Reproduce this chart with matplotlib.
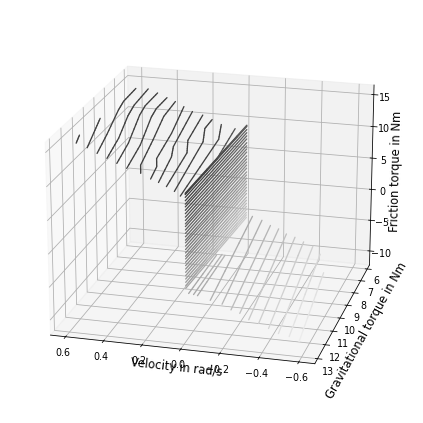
import numpy as np
import matplotlib
matplotlib.use("Agg")
import matplotlib.pyplot as plt
from mpl_toolkits.mplot3d.art3d import Line3DCollection

# Lines at positive velocity: velocity, gravitational torque, friction torque
up_vel = [0.53, 0.48, 0.43, 0.38, 0.33, 0.28, 0.22, 0.17, 0.13, 0.09, 0.05, 0.02, 0.01]
up_grav = [
    [13.2, 12.9],
    [13.1, 12.5, 11.9],
    [13.1, 12.2, 11.1, 10.6, 9.4],
    [13.1, 12.0, 11.1, 10.5, 9.1],
    [13.1, 12.0, 10.9, 10.35, 9.1],
    [13.1, 11.8, 10.7, 10.2, 9.1],
    [12.9, 12.9, 11.7, 10.6, 9.4],
    [12.9, 12.3, 12.3, 10.8, 9.5],
    [12.9, 11.6, 11.4, 9.4],
    [12.9, 10.8, 10.7, 9.1],
    [12.9, 9.9, 9.7, 8.9],
    [12.9, 8.8, 8.5],
    [9.2, 7.1],
]
up_fric = [
    [16.5, 17.2],
    [15.8, 17.0, 18.2],
    [15.1, 16.4, 18.3, 18.85, 19.0],
    [14.5, 15.7, 17.6, 18.25, 18.6],
    [13.9, 15.1, 17.5, 18.05, 18.1],
    [13.3, 14.6, 17.0, 17.5, 17.5],
    [12.4, 13.6, 15.3, 17.1, 17.5],
    [11.7, 12.5, 13.7, 15.0, 17.0],
    [11.3, 12.9, 14.1, 16.2],
    [10.8, 12.3, 14.0, 15.3],
    [10.2, 12.6, 14.3, 14.4],
    [9.6, 11.3, 13.1],
    [9.0, 10.3],
]

# Lines at negative velocity
low_vel = [-0.03, -0.05, -0.075, -0.14, -0.2, -0.25, -0.29, -0.34, -0.39, -0.44, -0.49, -0.54, -0.59]
low_grav_front = [13.1, 13.0, 13.1, 13.1, 13.1, 13.2, 13.1, 13.2, 13.2, 13.2, 13.2, 13.1, 13.1]
low_grav_back = [10.1, 9.9, 10.1, 8.3, 8.5, 8.6, 8.5, 8.7, 8.8, 8.9, 8.9, 9.2, 10.0]
low_fric_front = [-4.3, -4.6, -4.5, -5.0, -5.4, -5.9, -6.5, -7.1, -7.5, -8.1, -8.7, -9.2, -9.8]
low_fric_back = [-4.2, -4.4, -4.1, -1.1, -1.2, -1.7, -2.3, -2.6, -2.8, -3.2, -3.7, -4.3, -5.5]

# Wall of lines at zero velocity
wall_grav = [12.8, 5.9]
wall_fric_front = [9.9, 9.8, 9.7, 9.3, 8.8, 8.3, 7.9, 7.4, 6.9, 6.4, 5.9, 5.4, 5.0, 4.5, 4.0, 3.5,
                   3.0, 2.6, 2.1, 1.6, 1.1, 0.6, 0.2, -0.3, -0.8, -1.3, -1.8, -2.3, -2.8, -3.3, -3.8, -4.2]
wall_fric_back = [9.0, 8.9, 8.8, 8.3, 7.8, 7.3, 6.8, 6.2, 5.7, 5.2, 4.7, 4.1, 3.6, 3.1, 2.6, 2.1,
                  1.5, 1.0, 0.5, 0.0, -0.5, -1.0, -1.5, -2.0, -2.6, -3.1, -3.6, -4.1, -4.6, -5.1, -5.5, -5.9]


def shade(v, y, z):
    grey = 0.22 + 0.03 * (9.8 - z) + 0.02 * (13 - y) - 0.2 * min(v, 0)
    return str(float(np.clip(grey, 0.25, 0.94)))


def add_line(ax, v, ys, zs):
    # short pieces so the shade can change along the line
    segs = []
    cols = []
    for i in range(len(ys) - 1):
        yy = np.linspace(ys[i], ys[i + 1], 7)
        zz = np.linspace(zs[i], zs[i + 1], 7)
        for j in range(6):
            segs.append([(v, yy[j], zz[j]), (v, yy[j + 1], zz[j + 1])])
            cols.append(shade(v, yy[j], zz[j]))
    ax.add_collection3d(Line3DCollection(segs, colors=cols, linewidths=1.3, capstyle="round"))


fig = plt.figure(figsize=(423 / 72, 423 / 72), dpi=72)
ax = fig.add_axes([0.013, 0.0125, 0.97, 0.97], projection="3d")
ax.view_init(elev=20, azim=105)

for v, ys, zs in zip(up_vel, up_grav, up_fric):
    add_line(ax, v, ys, zs)
for i in range(len(low_vel)):
    add_line(ax, low_vel[i], [low_grav_front[i], low_grav_back[i]], [low_fric_front[i], low_fric_back[i]])
for a, b in zip(wall_fric_front, wall_fric_back):
    add_line(ax, 0.0, wall_grav, [a, b])

ax.set_xlim(-0.68, 0.68)
ax.set_ylim(5.65, 13.35)
ax.set_zlim(-12.3, 16.5)
ax.set_xticks([-0.6, -0.4, -0.2, 0, 0.2, 0.4, 0.6])
ax.set_yticks(range(6, 14))
ax.set_xlabel("Velocity in rad/s", fontsize=11.5, labelpad=-8)
ax.set_ylabel("Gravitational torque in Nm", fontsize=11.5, labelpad=-1.5)
ax.set_zlabel("Friction torque in Nm", fontsize=11.5, labelpad=-3.5)
ax.tick_params(labelsize=9.5, pad=0)
fig.savefig("out.png", dpi=72)
